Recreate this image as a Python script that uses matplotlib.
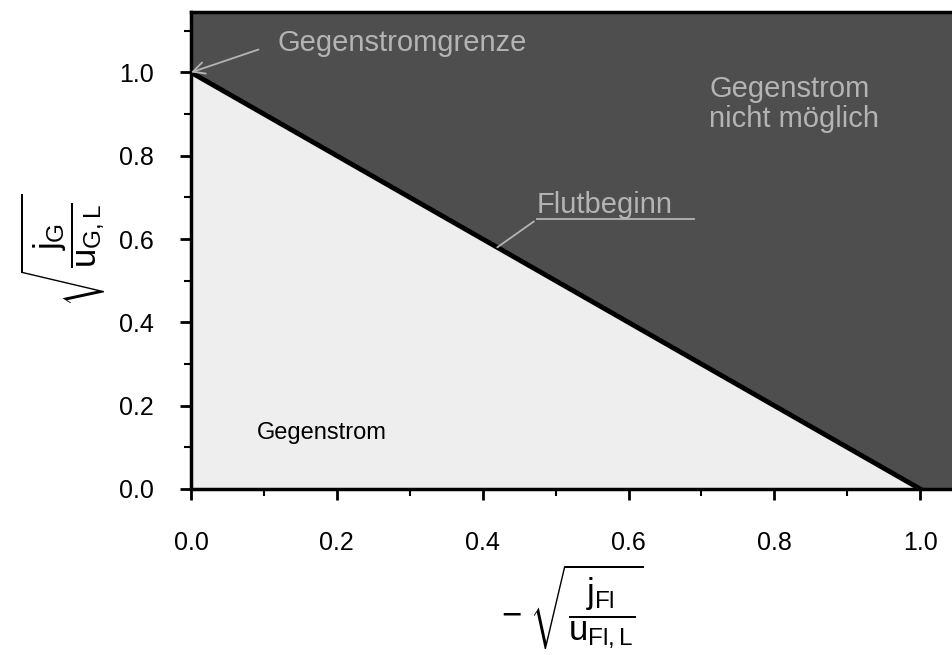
import numpy as np
import matplotlib
matplotlib.use("Agg")
import matplotlib.pyplot as plt
from matplotlib.ticker import MultipleLocator

plt.rcParams['font.family'] = ['Liberation Sans', 'DejaVu Sans']
plt.rcParams['mathtext.fontset'] = 'custom'
plt.rcParams['mathtext.rm'] = 'Liberation Sans'
plt.rcParams['mathtext.it'] = 'Liberation Sans'

# flooding limit (Gegenstromgrenze): sqrt(jG/uGL) + sqrt(jFl/uFlL) = 1
grenze_x = [0.0, 1.0]
grenze_y = [1.0, 0.0]

x_ticks = [0.0, 0.2, 0.4, 0.6, 0.8, 1.0]
y_ticks = [0.0, 0.2, 0.4, 0.6, 0.8, 1.0]

fig = plt.figure(figsize=(9.53, 6.55), dpi=100)
ax = fig.add_axes([191 / 953, 1 - 489 / 655, 1 - 191 / 953, (489 - 12) / 655])

xmax, ymax = 1.045, 1.145

# shaded regions: light below the limit, dark above it
ax.fill_between(grenze_x, 0, grenze_y, color='#eeeeee', zorder=0)
ax.fill_between([0, 1, xmax], [1, 0, 0], ymax, color='#4e4e4e', zorder=0)

ax.plot(grenze_x, grenze_y, color='black', linewidth=3.5, zorder=3)

ax.set_xlim(0, xmax)
ax.set_ylim(0, ymax)
ax.set_xticks(x_ticks)
ax.set_yticks(y_ticks)
ax.set_xticklabels([f"{v:.1f}" for v in x_ticks])
ax.set_yticklabels([f"{v:.1f}" for v in y_ticks])
ax.xaxis.set_minor_locator(MultipleLocator(0.1))
ax.yaxis.set_minor_locator(MultipleLocator(0.1))
ax.tick_params(which='major', direction='out', length=8, width=2, labelsize=18)
ax.tick_params(which='minor', direction='out', length=5, width=1.5)
ax.tick_params(axis='x', which='major', pad=22)
ax.tick_params(axis='y', which='major', pad=19)

for s in ['left', 'bottom', 'top']:
    ax.spines[s].set_linewidth(2.5)
ax.spines['right'].set_visible(False)

# texts
txt = '#b4b4b4'
ax.text(0.09, 0.135, 'Gegenstrom', fontsize=17, color='black', va='center')
ax.text(0.711, 0.925, 'Gegenstrom\nnicht möglich', fontsize=21, color=txt,
        va='center', linespacing=1.1)
ax.annotate('Gegenstromgrenze', xy=(0.0, 1.0), xytext=(0.118, 1.07),
            fontsize=21, color=txt, va='center',
            arrowprops=dict(arrowstyle='->', color=txt, lw=1.3,
                            shrinkA=12, shrinkB=0, relpos=(0, 0.5)))
ax.annotate('Flutbeginn', xy=(0.42, 0.58), xytext=(0.474, 0.647),
            fontsize=21, color=txt, va='bottom',
            arrowprops=dict(arrowstyle='-', color=txt, lw=1.3,
                            shrinkA=0, shrinkB=0, relpos=(0, 0)))
ax.plot([0.474, 0.69], [0.647, 0.647], color=txt, lw=1.3, zorder=2)

ax.set_ylabel(r'$\sqrt{\dfrac{j_G}{u_{G,L}}}$', fontsize=25, labelpad=8)
ax.set_xlabel(r'$-\;\sqrt{\dfrac{j_{Fl}}{u_{Fl,L}}}$', fontsize=25, labelpad=6)

fig.savefig('out.png', dpi=100)
